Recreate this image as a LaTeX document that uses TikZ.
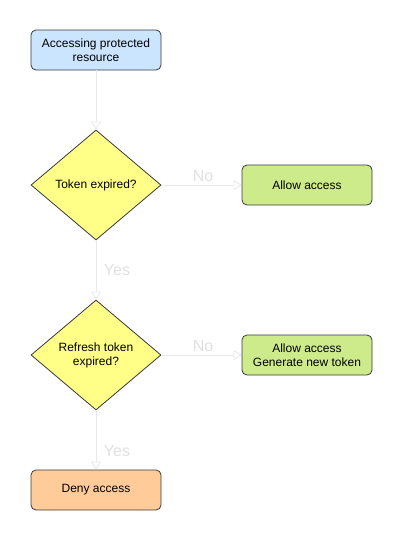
\documentclass[tikz,border=0pt]{standalone}
\usepackage{fontspec}
\setmainfont{Liberation Sans}
\usetikzlibrary{shapes.geometric,arrows.meta}
\definecolor{bluefill}{HTML}{CCE5FF}
\definecolor{greenfill}{HTML}{CDEB8B}
\definecolor{orangefill}{HTML}{FFCC99}
\definecolor{yellowfill}{HTML}{FFFF88}
\definecolor{edge}{HTML}{36393D}
\definecolor{conn}{HTML}{E8E8E8}
\definecolor{lbl}{HTML}{E0E0E0}
\begin{document}
\begin{tikzpicture}[x=1pt,y=-1pt,
  box/.style={draw=edge, line width=0.8pt, rounded corners=5pt, minimum width=130pt, minimum height=40pt, align=center, font=\fontsize{12}{14}\selectfont, inner sep=0pt},
  dia/.style={draw=edge, line width=0.8pt, diamond, fill=yellowfill, minimum width=130pt, minimum height=110pt, aspect=1.18, align=center, font=\fontsize{12}{14}\selectfont, inner sep=0pt},
  conn/.style={draw=conn, line width=0.8pt, -{Triangle[open, length=8pt, width=10pt]}},
  lab/.style={text=lbl, font=\fontsize{16}{18}\selectfont, inner sep=0pt}]
\useasboundingbox (0,0) rectangle (402,541);
\node[box, fill=bluefill] (start) at (96,50) {Accessing protected\\resource};
\node[dia] (d1) at (96,185) {Token expired?};
\node[box, fill=greenfill] (allow1) at (307,185) {Allow access};
\node[dia] (d2) at (96,355) {Refresh token\\expired?};
\node[box, fill=greenfill] (allow2) at (307,355) {Allow access\\Generate new token};
\node[box, fill=orangefill] (deny) at (96,490) {Deny access};
\draw[conn] (start) -- (d1);
\draw[conn] (d1) -- (allow1);
\draw[conn] (d1) -- (d2);
\draw[conn] (d2) -- (allow2);
\draw[conn] (d2) -- (deny);
\node[lab] (no1) at (203,176) {No};
\node[lab] (no2) at (203,346) {No};
\node[lab] (yes1) at (117,270) {Yes};
\node[lab] (yes2) at (117,451) {Yes};
\end{tikzpicture}
\end{document}
